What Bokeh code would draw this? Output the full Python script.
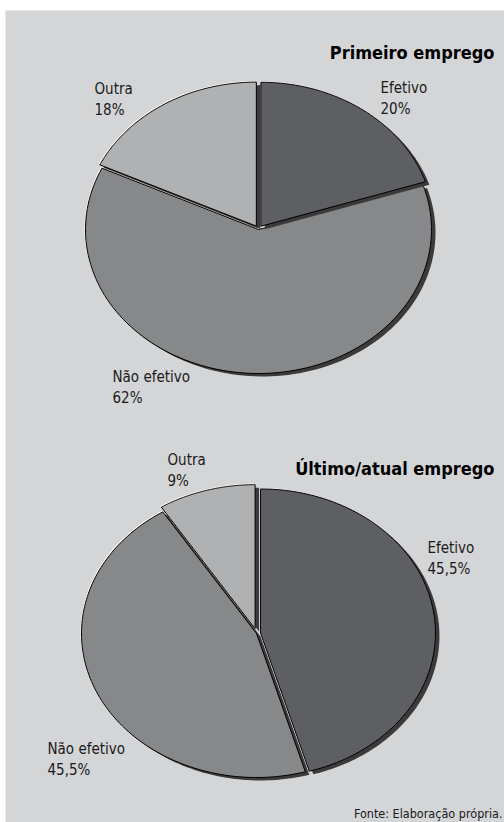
import numpy as np
from bokeh.plotting import figure
from bokeh.models import Range1d
from bokeh.core.properties import value
from bokeh.embed import file_html
from bokeh.resources import INLINE

# ---------------- data ----------------
categories = ["Efetivo", "Não efetivo", "Outra"]
primeiro_values = [20, 62, 18]
primeiro_labels = ["20%", "62%", "18%"]
ultimo_values = [45.5, 45.5, 9]
ultimo_labels = ["45,5%", "45,5%", "9%"]
titles = ["Primeiro emprego", "Último/atual emprego"]
source_note = "Fonte: Elaboração própria."

# ---------------- style / layout ----------------
W, H = 504, 822
FONT = "DejaVu Sans Condensed, Roboto Condensed, Roboto, sans-serif"
colors = {"Efetivo": "#5e5f63", "Não efetivo": "#87888a", "Outra": "#b0b1b3"}
shadow_color = "#3b3b3b"
panel_color = "#d4d5d7"

pies = [
    dict(values=primeiro_values, labels=primeiro_labels, title=titles[0],
         cx=258, cy=229, rx=173, ry=144,
         explode={"Efetivo": 4, "Não efetivo": 0, "Outra": 4},
         label_pos={"Efetivo": (380, 78), "Não efetivo": (112, 367), "Outra": (94, 79)},
         title_pos=(494, 52)),
    dict(values=ultimo_values, labels=ultimo_labels, title=titles[1],
         cx=256, cy=633, rx=175, ry=144,
         explode={"Efetivo": 4, "Não efetivo": 0, "Outra": 5},
         label_pos={"Efetivo": (427, 538), "Não efetivo": (47, 739), "Outra": (167, 450)},
         title_pos=(494, 468)),
]

p = figure(width=W, height=H, output_backend="svg", toolbar_location=None,
           x_range=Range1d(0, W), y_range=Range1d(H, 0),
           min_border=0, background_fill_color="white", border_fill_color="white")
p.axis.visible = False
p.grid.visible = False
p.outline_line_color = None

# gray panel
p.quad(left=5, right=W, top=10, bottom=H, fill_color=panel_color, line_color=None)


def wedge(cx, cy, rx, ry, a0, a1, off, n=120):
    mid = (a0 + a1) / 2
    ox, oy = off * np.cos(mid), -off * np.sin(mid)
    t = np.linspace(a0, a1, n)
    xs = [cx + ox] + list(cx + ox + rx * np.cos(t))
    ys = [cy + oy] + list(cy + oy - ry * np.sin(t))
    return xs, ys


draw_order = ["Não efetivo", "Efetivo", "Outra"]
for pie in pies:
    vals = pie["values"]
    total = float(sum(vals))
    angles = {}
    a = np.pi / 2
    for cat, v in zip(categories, vals):
        span = 2 * np.pi * v / total
        angles[cat] = (a - span, a)
        a -= span
    for cat in draw_order:
        a0, a1 = angles[cat]
        xs, ys = wedge(pie["cx"], pie["cy"], pie["rx"], pie["ry"], a0, a1, pie["explode"][cat])
        p.patch([x + 4 for x in xs], [y + 3 for y in ys], fill_color=shadow_color, line_color=None)
        p.patch([x - 1 for x in xs], [y - 1 for y in ys], fill_color="white", line_color=None)
        p.patch(xs, ys, fill_color=colors[cat], line_color="black", line_width=1)
    for cat, lab in zip(categories, pie["labels"]):
        lx, ly = pie["label_pos"][cat]
        p.text(x=[lx], y=[ly], text=[cat + "\n" + lab], text_font=value(FONT),
               text_font_size="15px", text_color="#1a1a1a", text_baseline="top",
               text_align="left", text_line_height=1.2)
    tx, ty = pie["title_pos"]
    p.text(x=[tx], y=[ty], text=[pie["title"]], text_font=value(FONT),
           text_font_size="18px", text_font_style="bold", text_color="black",
           text_baseline="alphabetic", text_align="right")

p.text(x=[502], y=[813], text=[source_note], text_font=value(FONT),
       text_font_size="12.5px", text_color="#1a1a1a", text_baseline="alphabetic", text_align="right")

open("out.html", "w").write(file_html(p, INLINE))
